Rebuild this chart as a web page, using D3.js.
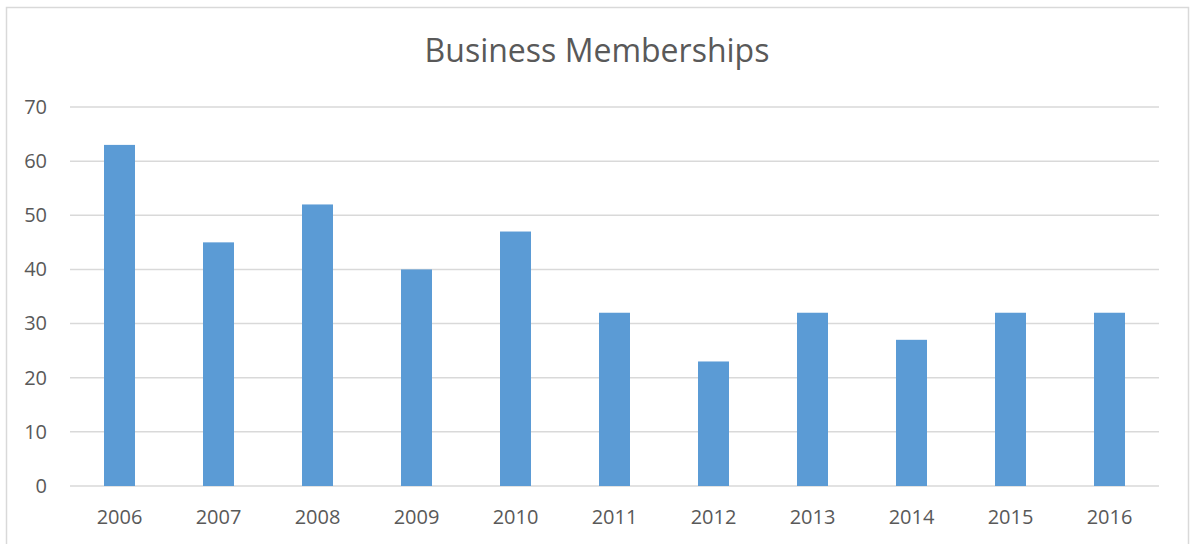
<!DOCTYPE html>
<html>
<head>
<meta charset="utf-8">
<script src="https://cdn.jsdelivr.net/npm/d3@7"></script>
<style>
  body { margin: 0; background: #fff; }
  #plot { width: 1195px; height: 544px; }
  text { font-family: "Open Sans", "Noto Sans", sans-serif; fill: #595959; }
</style>
</head>
<body>
<div id="plot"></div>
<script>
// Data
var years = ["2006", "2007", "2008", "2009", "2010", "2011", "2012", "2013", "2014", "2015", "2016"];
var members = [63, 45, 52, 40, 47, 32, 23, 32, 27, 32, 32];
var yTicks = [0, 10, 20, 30, 40, 50, 60, 70];

var w = 1195, h = 544;
var paddingLeft = 70, paddingRight = 36, paddingTop = 107, paddingBottom = 58;

var svg = d3.select("#plot").append("svg")
    .attr("width", w)
    .attr("height", h);

// Outer chart border
svg.append("rect")
    .attr("x", 6.5).attr("y", 7.5)
    .attr("width", 1182).attr("height", 560)
    .attr("fill", "none")
    .attr("stroke", "#d9d9d9")
    .attr("stroke-width", 1.5);

var xScale = d3.scaleBand()
    .domain(years)
    .range([paddingLeft, w - paddingRight])
    .paddingInner(0.687)
    .paddingOuter(0.3435);

var yScale = d3.scaleLinear()
    .domain([0, 70])
    .range([h - paddingBottom, paddingTop]);

// Gridlines
svg.append("g")
  .selectAll("line")
  .data(yTicks)
  .enter().append("line")
    .attr("x1", paddingLeft)
    .attr("x2", w - paddingRight)
    .attr("y1", function(d) { return yScale(d); })
    .attr("y2", function(d) { return yScale(d); })
    .attr("stroke", "#d9d9d9")
    .attr("stroke-width", 1.5);

// Bars
svg.selectAll(".bar")
    .data(members)
    .enter().append("rect")
    .attr("class", "bar")
    .attr("x", function(d, i) { return xScale(years[i]); })
    .attr("width", xScale.bandwidth())
    .attr("y", function(d) { return yScale(d); })
    .attr("height", function(d) { return yScale(0) - yScale(d); })
    .attr("fill", "#5b9bd5");

// Y axis labels
var yAxis = d3.axisLeft(yScale).tickValues(yTicks).tickSize(0).tickPadding(23);
svg.append("g")
    .attr("transform", "translate(" + paddingLeft + ",0)")
    .call(yAxis)
    .call(function(g) { g.select(".domain").remove(); })
    .selectAll("text")
    .style("font-size", "20px")
    .attr("fill", "#595959");

// X axis labels
var xAxis = d3.axisBottom(xScale).tickSize(0).tickPadding(24);
svg.append("g")
    .attr("transform", "translate(0," + (h - paddingBottom) + ")")
    .call(xAxis)
    .call(function(g) { g.select(".domain").remove(); })
    .selectAll("text")
    .style("font-size", "20px")
    .attr("fill", "#595959");

// Title
svg.append("text")
    .attr("x", 597)
    .attr("y", 62)
    .attr("text-anchor", "middle")
    .style("font-size", "32px")
    .text("Business Memberships");
</script>
</body>
</html>
